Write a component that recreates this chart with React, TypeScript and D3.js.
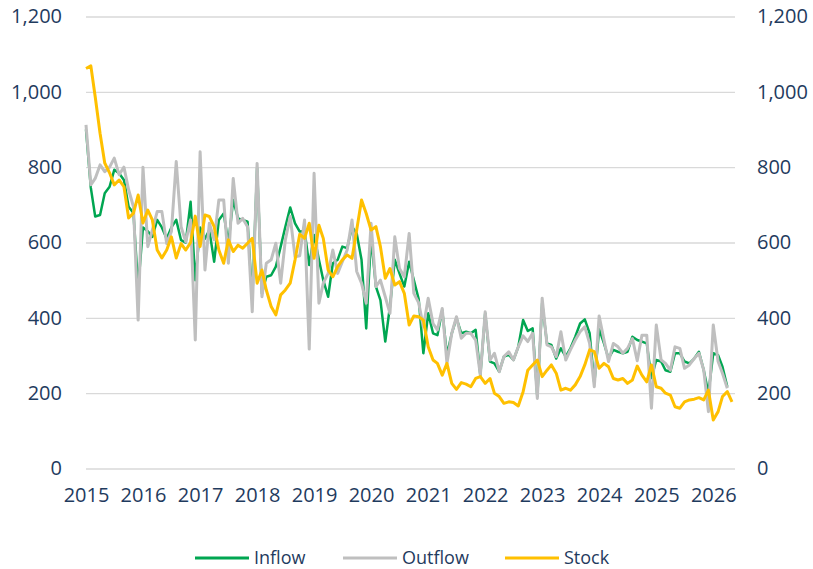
import React, { useEffect, useRef } from 'react';
import * as d3 from 'd3';

// monthly series, Jan 2015 onwards
const inflow = [
  900, 745, 669, 673, 731, 748, 793, 784, 766, 695,
  678, 480, 640, 630, 615, 660, 640, 610, 640, 660,
  606, 600, 708, 500, 640, 610, 633, 549, 660, 677,
  598, 713, 664, 660, 655, 447, 797, 465, 509, 513,
  536, 589, 642, 693, 651, 629, 630, 540, 620, 554,
  500, 456, 545, 554, 589, 585, 642, 624, 554, 372,
  615, 483, 447, 337, 430, 554, 518, 483, 549, 500,
  450, 306, 412, 359, 354, 420, 301, 359, 399, 359,
  363, 359, 368, 248, 412, 284, 279, 257, 297, 302,
  288, 323, 394, 365, 372, 191, 439, 332, 328, 292,
  319, 297, 319, 350, 385, 396, 359, 226, 370, 332,
  292, 315, 310, 306, 310, 350, 341, 337, 332, 240,
  288, 284, 261, 257, 306, 306, 284, 279, 292, 310,
  261, 200, 306, 301, 270, 217,
];

const outflow = [
  912, 753, 770, 806, 788, 800, 824, 780, 800, 740,
  695, 394, 800, 589, 633, 682, 682, 597, 629, 815,
  642, 602, 660, 341, 841, 527, 651, 607, 713, 713,
  545, 770, 651, 664, 642, 416, 810, 456, 545, 554,
  598, 492, 607, 669, 562, 565, 660, 317, 784, 439,
  492, 518, 580, 518, 549, 580, 660, 523, 492, 439,
  651, 483, 500, 456, 412, 615, 531, 509, 624, 465,
  440, 376, 452, 385, 368, 425, 279, 359, 403, 346,
  359, 359, 341, 248, 416, 288, 306, 257, 297, 310,
  288, 323, 352, 337, 359, 186, 452, 328, 323, 297,
  363, 288, 315, 341, 363, 376, 332, 217, 405, 341,
  284, 332, 323, 306, 319, 345, 286, 354, 354, 160,
  381, 288, 279, 261, 323, 319, 266, 275, 292, 306,
  261, 151, 381, 284, 253, 213,
];

const stock = [
  1062, 1069, 987, 890, 811, 785, 753, 766, 748, 665,
  678, 726, 652, 686, 660, 580, 559, 580, 615, 559,
  597, 580, 600, 670, 589, 673, 669, 642, 580, 545,
  607, 576, 593, 585, 598, 611, 492, 527, 474, 430,
  408, 461, 474, 492, 554, 622, 611, 651, 558, 646,
  611, 527, 509, 536, 554, 567, 558, 633, 713, 677,
  633, 642, 589, 505, 531, 487, 496, 465, 381, 405,
  403, 394, 323, 288, 279, 248, 279, 226, 210, 228,
  224, 217, 239, 244, 226, 239, 200, 191, 173, 177,
  175, 166, 204, 261, 275, 288, 244, 261, 275, 253,
  208, 213, 208, 222, 244, 275, 315, 310, 266, 279,
  270, 239, 235, 239, 226, 235, 272, 248, 230, 275,
  217, 213, 200, 195, 164, 160, 177, 182, 184, 188,
  182, 208, 129, 151, 191, 204, 177,
];

const yTicks = [0, 200, 400, 600, 800, 1000, 1200];

const series = [
  { name: 'Inflow', values: inflow, color: '#00a651', width: 2.5 },
  { name: 'Outflow', values: outflow, color: '#bfbfbf', width: 3 },
  { name: 'Stock', values: stock, color: '#ffc000', width: 3 },
];

const W = 813;
const H = 569;
const textColor = '#1f3b5e';
const font = '"Open Sans", sans-serif';

const App = () => {
  const svgRef = useRef<SVGSVGElement>(null);

  useEffect(() => {
    const svg = d3.select(svgRef.current);
    svg.selectAll('*').remove();

    const left = 86, right = 735, top = 16.5, bottom = 468.5;
    const monthDate = (i: number) => new Date(2015, i, 1);

    const x = d3.scaleTime()
      .domain([monthDate(0), monthDate(136)])
      .range([left, 732]);
    const y = d3.scaleLinear().domain([0, 1200]).range([bottom, top]);

    // gridlines + left labels
    const gl = svg.append('g')
      .attr('transform', `translate(${left},0)`)
      .call(d3.axisLeft(y).tickValues(yTicks).tickFormat(d3.format(','))
        .tickSizeInner(-(right - left)).tickSizeOuter(0).tickPadding(24));
    gl.select('.domain').remove();
    gl.selectAll('line').attr('stroke', '#d9d9d9').attr('stroke-width', 1.3);
    gl.selectAll('text').attr('fill', textColor).style('font-family', font).style('font-size', '20px');

    const gr = svg.append('g')
      .attr('transform', `translate(${right},0)`)
      .call(d3.axisRight(y).tickValues(yTicks).tickFormat(d3.format(','))
        .tickSize(0).tickPadding(22));
    gr.select('.domain').remove();
    gr.selectAll('text').attr('fill', textColor).style('font-family', font).style('font-size', '20px');

    const gx = svg.append('g')
      .attr('transform', `translate(0,${bottom})`)
      .call(d3.axisBottom(x).ticks(d3.timeYear.every(1)).tickFormat(d3.timeFormat('%Y') as any)
        .tickSize(0).tickPadding(19));
    gx.select('.domain').remove();
    gx.selectAll('text').attr('fill', textColor).style('font-family', font).style('font-size', '20px');

    // lines
    series.forEach(s => {
      const line = d3.line<number>()
        .x((_, i) => x(monthDate(i)))
        .y(d => y(d));
      svg.append('path')
        .datum(s.values)
        .attr('d', line)
        .attr('fill', 'none')
        .attr('stroke', s.color)
        .attr('stroke-width', s.width)
        .attr('stroke-linejoin', 'round');
    });

    // legend
    const legendX = [195, 343, 505];
    series.forEach((s, i) => {
      const g = svg.append('g').attr('transform', `translate(${legendX[i]},558)`);
      g.append('line')
        .attr('x1', 0).attr('x2', 54)
        .attr('stroke', s.color).attr('stroke-width', 3);
      g.append('text')
        .attr('x', 59).attr('dy', '0.35em')
        .attr('fill', textColor)
        .style('font-family', font).style('font-size', '18px')
        .text(s.name);
    });
  }, []);

  return (
    <svg
      ref={svgRef}
      width={W}
      height={H}
      style={{ position: 'absolute', left: 0, top: 0, background: '#fff' }}
    />
  );
};

export default App;
